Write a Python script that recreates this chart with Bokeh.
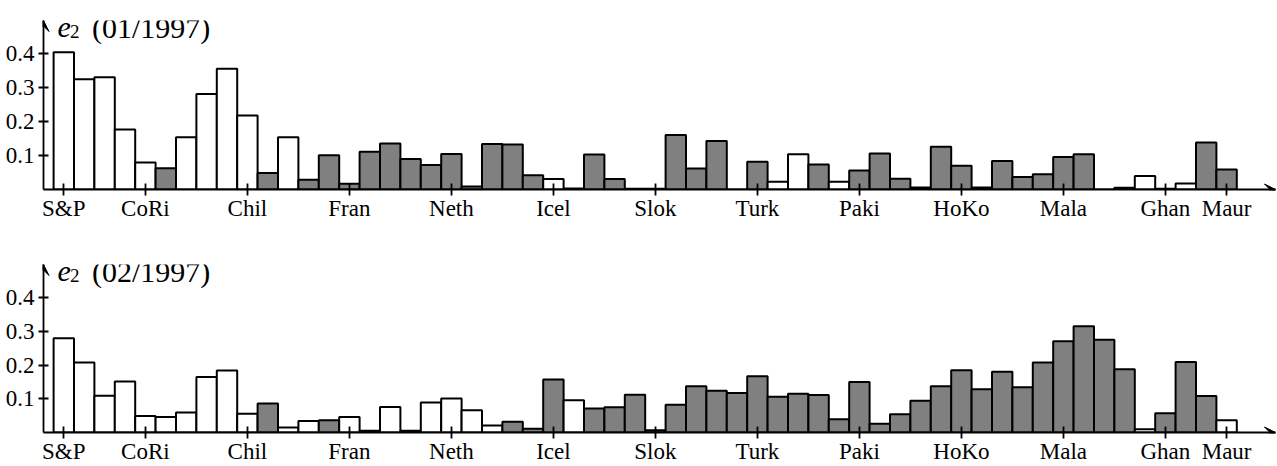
from bokeh.plotting import figure
from bokeh.models import FixedTicker, Range1d, Label, Arrow, VeeHead, ColumnDataSource
from bokeh.layouts import column
from bokeh.embed import file_html
from bokeh.resources import INLINE

# ---------------- data ----------------
countries = ["S&P", "CoRi", "Chil", "Fran", "Neth", "Icel", "Slok",
             "Turk", "Paki", "HoKo", "Mala", "Ghan", "Maur"]
country_bar_index = [0, 4, 9, 14, 19, 24, 29, 34, 39, 44, 49, 54, 57]

e2_jan_1997 = [0.405, 0.325, 0.331, 0.177, 0.080, 0.063, 0.154, 0.282, 0.356, 0.218,
               0.049, 0.154, 0.029, 0.101, 0.017, 0.111, 0.136, 0.090, 0.072, 0.105,
               0.009, 0.134, 0.133, 0.042, 0.031, 0.003, 0.103, 0.031, 0.002, 0.002,
               0.161, 0.062, 0.143, 0.000, 0.082, 0.023, 0.104, 0.074, 0.023, 0.056,
               0.106, 0.032, 0.006, 0.126, 0.070, 0.006, 0.084, 0.037, 0.045, 0.096,
               0.104, 0.000, 0.005, 0.040, 0.002, 0.018, 0.139, 0.059]
e2_jan_1997_shade = ["W", "W", "W", "W", "W", "G", "W", "W", "W", "W",
                     "G", "W", "G", "G", "G", "G", "G", "G", "G", "G",
                     "G", "G", "G", "G", "W", "G", "G", "G", "G", "G",
                     "G", "G", "G", "G", "G", "W", "W", "G", "W", "G",
                     "G", "G", "G", "G", "G", "G", "G", "G", "G", "G",
                     "G", "G", "G", "W", "G", "W", "G", "G"]

e2_feb_1997 = [0.280, 0.208, 0.109, 0.151, 0.049, 0.046, 0.059, 0.165, 0.184, 0.056,
               0.086, 0.015, 0.034, 0.036, 0.046, 0.005, 0.076, 0.005, 0.089, 0.101,
               0.066, 0.021, 0.032, 0.011, 0.157, 0.096, 0.071, 0.075, 0.112, 0.007,
               0.082, 0.137, 0.124, 0.117, 0.167, 0.106, 0.115, 0.111, 0.039, 0.150,
               0.026, 0.054, 0.094, 0.137, 0.185, 0.128, 0.180, 0.134, 0.208, 0.271,
               0.315, 0.275, 0.188, 0.010, 0.057, 0.209, 0.108, 0.036]
e2_feb_1997_shade = ["W", "W", "W", "W", "W", "W", "W", "W", "W", "W",
                     "G", "W", "W", "G", "W", "G", "W", "G", "W", "W",
                     "W", "W", "G", "G", "G", "W", "G", "G", "G", "G",
                     "G", "G", "G", "G", "G", "G", "G", "G", "G", "G",
                     "G", "G", "G", "G", "G", "G", "G", "G", "G", "G",
                     "G", "G", "G", "W", "G", "G", "G", "W"]

y_ticks = [0.1, 0.2, 0.3, 0.4]
shade_colors = {"W": "#ffffff", "G": "#808080"}

# ---------------- layout constants ----------------
FIG_W = 1277
BORDER_L = 43
BORDER_R = 2
PX_PER_UNIT = 339.0
FRAME_H = 169
Y_END = FRAME_H / PX_PER_UNIT
PX_PER_BAR = 20.4
FIRST_BAR_X = 63.3
X0 = (BORDER_L - FIRST_BAR_X) / PX_PER_BAR
X1 = X0 + (FIG_W - BORDER_L - BORDER_R) / PX_PER_BAR
SERIF = "'Liberation Serif'"


def make_panel(values, shades, period, height, b_top, b_bottom):
    src = ColumnDataSource(dict(
        x=list(range(len(values))),
        top=values,
        fill=[shade_colors[s] for s in shades],
    ))
    p = figure(width=FIG_W, height=height, output_backend="svg", toolbar_location=None,
               x_range=Range1d(X0, X1), y_range=Range1d(0, Y_END),
               min_border_left=BORDER_L, min_border_right=BORDER_R,
               min_border_top=b_top, min_border_bottom=b_bottom)
    p.outline_line_color = None
    p.xgrid.visible = False
    p.ygrid.visible = False
    p.background_fill_color = "white"
    p.border_fill_color = "white"

    p.vbar(x="x", top="top", bottom=0, width=1, source=src,
           fill_color="fill", line_color="black", line_width=2)

    xa = p.xaxis[0]
    xa.ticker = FixedTicker(ticks=country_bar_index)
    xa.major_label_overrides = {i: c for i, c in zip(country_bar_index, countries)}
    xa.axis_line_width = 1.8
    xa.major_tick_in = 6
    xa.major_tick_out = 6
    xa.major_tick_line_width = 1.8
    xa.minor_tick_line_color = None
    xa.major_label_standoff = 0
    xa.major_label_text_font = SERIF
    xa.major_label_text_font_size = "23px"
    xa.major_label_text_color = "black"

    ya = p.yaxis[0]
    ya.ticker = FixedTicker(ticks=y_ticks)
    ya.major_label_overrides = {t: f"{t:.1f}" for t in y_ticks}
    ya.axis_line_width = 1.8
    ya.major_tick_in = 5
    ya.major_tick_out = 5
    ya.major_tick_line_width = 1.8
    ya.minor_tick_line_color = None
    ya.major_label_standoff = 4
    ya.major_label_text_font = SERIF
    ya.major_label_text_font_size = "23px"
    ya.major_label_text_color = "black"

    head = dict(size=11, fill_color="black", line_color="black", line_width=1)
    p.add_layout(Arrow(end=VeeHead(**head), x_start=X1 - 0.3, y_start=0, x_end=X1, y_end=0,
                       line_color="black", line_width=1.8))
    p.add_layout(Arrow(end=VeeHead(**head), x_start=X0, y_start=Y_END - 0.02, x_end=X0, y_end=Y_END,
                       line_color="black", line_width=1.8))

    base = 162 / PX_PER_UNIT

    def px_x(page_x):
        return (page_x - FIRST_BAR_X) / PX_PER_BAR

    p.add_layout(Label(x=px_x(57), y=base, text="e", text_font=SERIF, text_font_style="italic",
                       text_font_size="30px", text_baseline="alphabetic", text_color="black"))
    p.add_layout(Label(x=px_x(69.5), y=base - 4 / PX_PER_UNIT, text="2", text_font=SERIF,
                       text_font_size="19px", text_baseline="alphabetic", text_color="black"))
    p.add_layout(Label(x=px_x(91.5), y=base, text=f"({period})", text_font=SERIF,
                       text_font_size="30px", text_baseline="alphabetic", text_color="black"))
    return p


p1 = make_panel(e2_jan_1997, e2_jan_1997_shade, "01/1997", 240, 20, 51)
p2 = make_panel(e2_feb_1997, e2_feb_1997_shade, "02/1997", 226, 24, 33)

layout = column(p1, p2, spacing=0)
open("out.html", "w").write(file_html(layout, INLINE))
